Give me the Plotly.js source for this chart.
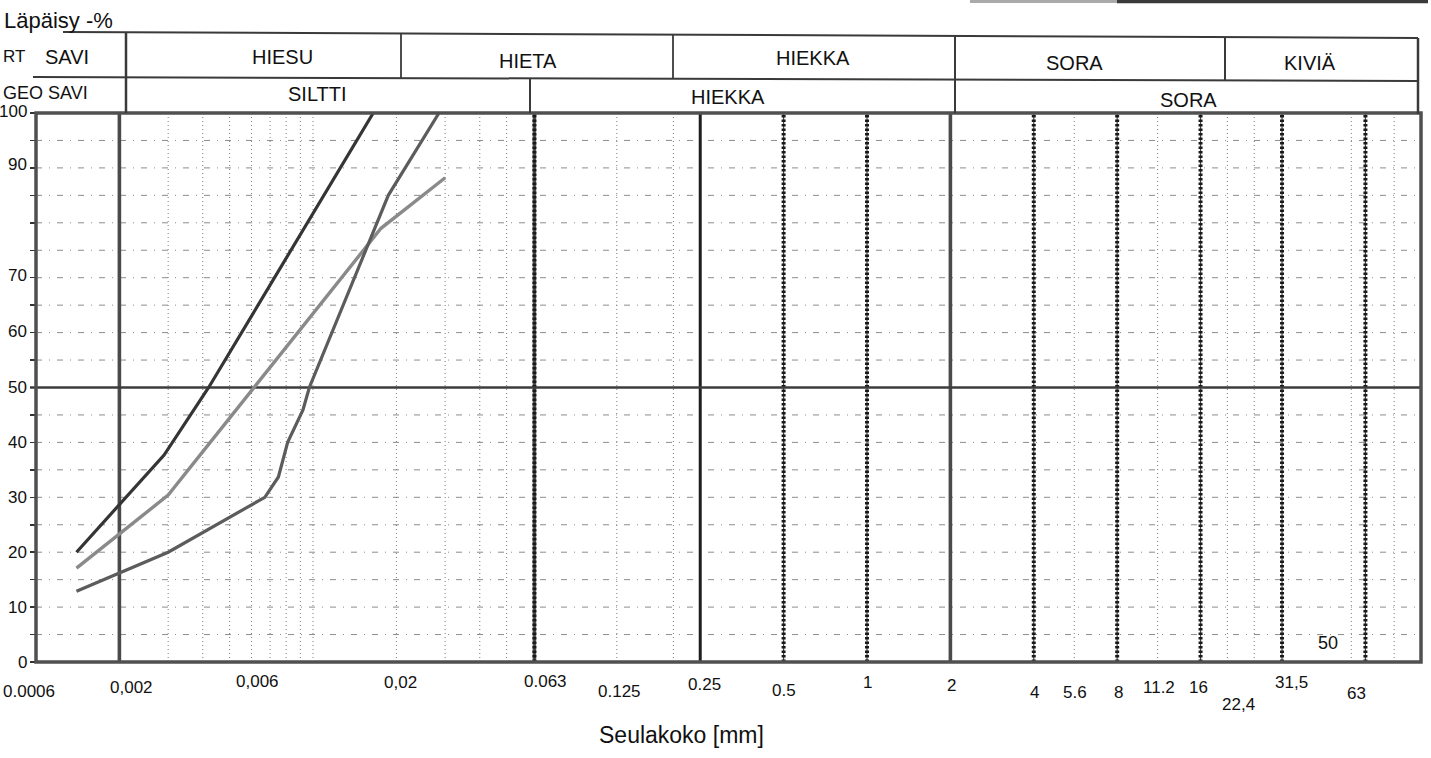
<!DOCTYPE html>
<html>
<head>
<meta charset="utf-8">
<script src="https://cdn.plot.ly/plotly-3.0.1.min.js"></script>
<style>
html,body{margin:0;padding:0;background:#fff;}
#chart{width:1431px;height:758px;}
</style>
</head>
<body>
<div id="chart"></div>
<script>
// ---------------- DATA ----------------
// Grain size curves: sieve size [mm] vs passing [%]
const curveA_x = [0.0014, 0.0029, 0.0042, 0.0061, 0.0083, 0.0119, 0.0165];
const curveA_y = [20, 37.7, 50, 63.6, 75, 88, 100];
const curveB_x = [0.0014, 0.003, 0.0176, 0.03];
const curveB_y = [17.1, 30.4, 79, 88.2];
const curveC_x = [0.0014, 0.003, 0.0067, 0.0075, 0.0081, 0.0092, 0.0097, 0.0187, 0.0285];
const curveC_y = [12.9, 20, 30, 33.7, 40, 45.9, 50, 85, 100];

// x tick labels (sieve sizes)
const xTickVals = [0.001, 0.002, 0.006, 0.02, 0.063, 0.125, 0.25, 0.5, 1, 2, 4, 5.6, 8, 11.2, 16, 22.4, 31.5, 63];
const xTickText = ["0.0006", "0,002", "0,006", "0,02", "0.063", "0.125", "0.25", "0.5", "1", "2", "4", "5.6", "8", "11.2", "16", "22,4", "31,5", "63"];
// y tick labels
const yTickVals = [0, 10, 20, 30, 40, 50, 60, 70, 90, 100];

// vertical reference lines
const heavyX = [0.002, 0.25, 2];
const beadedX = [0.063, 0.5, 1, 4, 8, 16, 31.5, 63];
const lightX = [0.003, 0.004, 0.005, 0.006, 0.007, 0.008, 0.009, 0.01, 0.02, 0.03, 0.04, 0.05,
                0.125, 0.2, 5.6, 11.2, 20, 25, 56, 80];
// horizontal reference lines
const lightY = [5, 10, 15, 20, 25, 30, 35, 40, 45, 55, 60, 65, 70, 75, 80, 85, 90, 95];
const majorY = [50];

// classification header
const rtLabels = ["RT", "SAVI", "HIESU", "HIETA", "HIEKKA", "SORA", "KIVIÄ"];
const geoLabels = ["GEO SAVI", "SILTTI", "HIEKKA", "SORA"];

// ---------------- LAYOUT HELPERS (pixel placement of page furniture) ----------------
const PL = 36, PT = 113, PW = 1385, PH = 549;
const px = x => (x - PL) / PW;
const py = y => (PT + PH - y) / PH;
const FONT = "Liberation Sans, Arial, Helvetica, sans-serif";

// label placement tweaks (style, not data)
const xLabelShift = [0, 12, 6, 4, 11, 3, 4, 0, 0, 1, 1, 1, 1, 1, -2, -3, 9, -9];
const xLabelAnchor = ['left', 'center', 'center', 'center', 'center', 'center', 'center', 'center', 'center',
                      'center', 'center', 'center', 'center', 'center', 'center', 'center', 'center', 'center'];
const xLabelCenterY = [691, 687, 681, 682, 681, 691, 684, 690, 682, 685, 692, 692, 692, 687, 687, 704, 682, 693];
const yLabelShift = [0, 0, 0, 0, 0, 0, 1, 2, 3, 2];

const rtPos = [[1, 56, 'left'], [67, 57, 'center'], [282, 57, 'center'], [528, 61, 'center'],
               [813, 58, 'center'], [1074, 63, 'center'], [1310, 63, 'center']];
const geoPos = [[1, 93, 'left'], [317, 94, 'center'], [728, 97, 'center'], [1188, 100, 'center']];

// ---------------- TRACES ----------------
const traces = [
  {x: curveA_x, y: curveA_y, type: 'scatter', mode: 'lines', line: {color: '#353535', width: 3.2}, hoverinfo: 'skip'},
  {x: curveB_x, y: curveB_y, type: 'scatter', mode: 'lines', line: {color: '#8a8a8a', width: 3.4}, hoverinfo: 'skip'},
  {x: curveC_x, y: curveC_y, type: 'scatter', mode: 'lines', line: {color: '#5c5c5c', width: 3.2}, hoverinfo: 'skip'}
];

// ---------------- SHAPES ----------------
const shapes = [];
lightY.forEach(v => shapes.push({type: 'line', xref: 'paper', yref: 'y', x0: 0, x1: 1, y0: v, y1: v,
  line: {color: '#8c8c8c', width: 1, dash: '6px,7px,1px,7px'}, layer: 'below'}));
lightX.forEach(v => shapes.push({type: 'line', xref: 'x', yref: 'paper', x0: v, x1: v, y0: 0, y1: 1,
  line: {color: '#7a7a7a', width: 1, dash: '1px,3px'}, layer: 'below'}));
heavyX.forEach((v, i) => shapes.push({type: 'line', xref: 'x', yref: 'paper', x0: v, x1: v, y0: 0, y1: 1,
  line: {color: i === 1 ? '#1e1e1e' : '#4a4a4a', width: i === 1 ? 3 : 3.6}, layer: 'below'}));
beadedX.forEach((v, i) => {
  if (i === 0) shapes.push({type: 'line', xref: 'x', yref: 'paper', x0: v, x1: v, y0: 0, y1: 1,
    line: {color: '#555', width: 3.5}, layer: 'below'});
  shapes.push({type: 'line', xref: 'x', yref: 'paper', x0: v, x1: v, y0: 0, y1: 1,
    line: {color: '#444', width: 1.2}, layer: 'below'});
  shapes.push({type: 'line', xref: 'x', yref: 'paper', x0: v, x1: v, y0: 0, y1: 1,
    line: {color: '#1a1a1a', width: 4, dash: '2.5px,2px'}, layer: 'below'});
});
majorY.forEach(v => shapes.push({type: 'line', xref: 'paper', yref: 'y', x0: px(30), x1: 1, y0: v, y1: v,
  line: {color: '#3c3c3c', width: 2.5}, layer: 'below'}));
// plot frame
shapes.push({type: 'rect', xref: 'paper', yref: 'paper', x0: 0, x1: 1, y0: 0, y1: 1,
  line: {color: '#505050', width: 3.5}, layer: 'above'});

// header table lines
const hdr = (x0, y0, x1, y1, w) => shapes.push({type: 'line', xref: 'paper', yref: 'paper',
  x0: px(x0), y0: py(y0), x1: px(x1), y1: py(y1), line: {color: '#3a3a3a', width: w || 2}});
hdr(63, 32, 1418, 38, 2);
hdr(33, 77, 1418, 81, 2);
hdr(126, 32, 126, 113, 2.5);
hdr(401, 33, 401, 78, 1.8);
hdr(673, 34, 673, 79, 1.8);
hdr(530, 79, 530, 113, 2);
hdr(955, 36, 955, 113, 2);
hdr(1225, 37, 1225, 80, 2);
hdr(1418, 38, 1418, 114, 2.5);
// scanner bar top right
hdr(970, 1.5, 1117, 1.5, 3);
shapes[shapes.length - 1].line.color = '#aaaaaa';
hdr(1117, 1.5, 1428, 1.5, 3.5);
shapes[shapes.length - 1].line.color = '#3a3a3a';

// ---------------- ANNOTATIONS ----------------
const annotations = [];
xTickVals.forEach((v, i) => annotations.push({
  x: Math.log10(v), xref: 'x', y: 0, yref: 'paper', text: xTickText[i], showarrow: false,
  xanchor: xLabelAnchor[i], yanchor: 'middle', xshift: xLabelAnchor[i] === 'left' ? -35 : xLabelShift[i],
  yshift: -(xLabelCenterY[i] - (PT + PH)),
  font: {family: FONT, size: 17, color: '#111'}
}));
yTickVals.forEach((v, i) => annotations.push({
  x: px(29), xref: 'paper', y: v, yref: 'y', text: String(v), showarrow: false,
  xanchor: 'right', yanchor: 'middle', yshift: yLabelShift[i],
  font: {family: FONT, size: 17, color: '#111'}
}));
rtLabels.forEach((t, i) => annotations.push({
  x: px(rtPos[i][0]), xref: 'paper', y: py(rtPos[i][1]), yref: 'paper', text: t, showarrow: false,
  xanchor: rtPos[i][2], yanchor: 'middle', font: {family: FONT, size: i === 0 ? 17 : 20, color: '#111'}
}));
geoLabels.forEach((t, i) => annotations.push({
  x: px(geoPos[i][0]), xref: 'paper', y: py(geoPos[i][1]), yref: 'paper', text: t, showarrow: false,
  xanchor: geoPos[i][2], yanchor: 'middle', font: {family: FONT, size: i === 0 ? 18 : 20, color: '#111'}
}));
annotations.push({x: px(2), xref: 'paper', y: py(20), yref: 'paper', text: 'Läpäisy -%', showarrow: false,
  xanchor: 'left', yanchor: 'middle', font: {family: FONT, size: 22, color: '#111'}});
annotations.push({x: px(1328), xref: 'paper', y: py(643), yref: 'paper', text: '50', showarrow: false,
  xanchor: 'center', yanchor: 'middle', font: {family: FONT, size: 18, color: '#111'}});
// x-axis title (placed as in the reference, left of the plot centre)
annotations.push({x: px(681), xref: 'paper', y: py(735), yref: 'paper', text: 'Seulakoko [mm]', showarrow: false,
  xanchor: 'center', yanchor: 'middle', font: {family: FONT, size: 23, color: '#111'}});

const layout = {
  width: 1431, height: 758,
  margin: {l: PL, r: 1431 - PL - PW, t: PT, b: 758 - PT - PH, pad: 0},
  paper_bgcolor: '#fff', plot_bgcolor: '#fff',
  showlegend: false,
  xaxis: {type: 'log', range: [-3, 2], showgrid: false, zeroline: false, showticklabels: false,
          ticks: '', showline: false, fixedrange: true},
  yaxis: {range: [0, 100], showgrid: false, zeroline: false, showticklabels: false,
          ticks: 'outside', ticklen: 5, tickwidth: 1.5, tickcolor: '#333', dtick: 5, tick0: 0,
          showline: false, fixedrange: true},
  shapes: shapes,
  annotations: annotations
};

Plotly.newPlot('chart', traces, layout, {staticPlot: true, displayModeBar: false});
</script>
</body>
</html>
